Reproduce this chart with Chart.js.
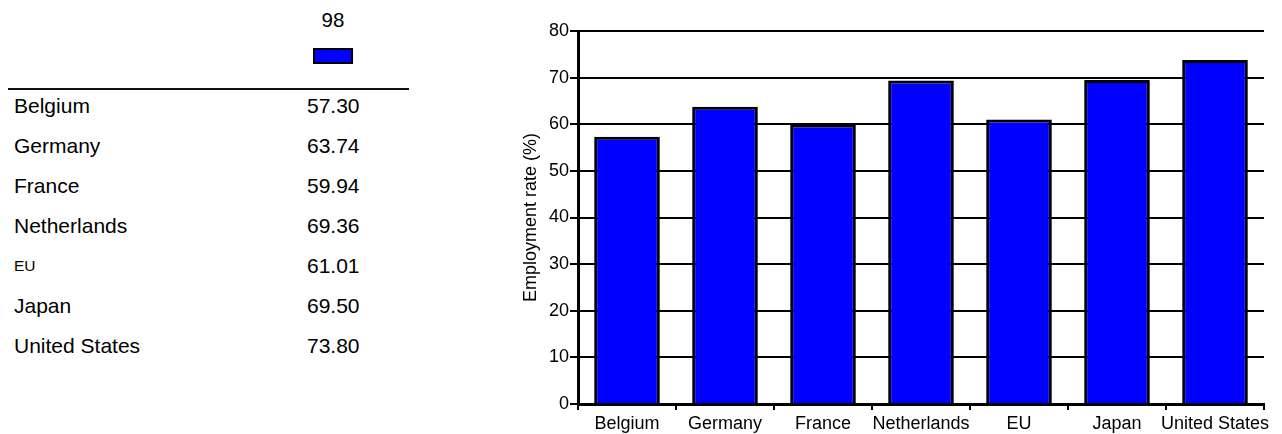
<!DOCTYPE html>
<html>
<head>
<meta charset="utf-8">
<title>Employment rate</title>
<script src="https://cdn.jsdelivr.net/npm/chart.js@4/dist/chart.umd.min.js"></script>
<style>
  html, body { margin: 0; padding: 0; background: #fff; }
  body { width: 1282px; height: 434px; position: relative; overflow: hidden;
         font-family: "Liberation Sans", Arial, sans-serif; color: #000; }
  #table { position: absolute; left: 0; top: 0; width: 500px; height: 434px; }
  .hdr { position: absolute; left: 303px; width: 60px; top: 8px; height: 24px; line-height: 24px;
         text-align: center; font-size: 20.5px; }
  .swatch { position: absolute; left: 313px; top: 48px; width: 36px; height: 12px;
            border: 2px solid #000; background: #0000ff; }
  .rule { position: absolute; left: 8px; top: 88px; width: 401px; height: 2px; background: #111; }
  .row { position: absolute; left: 0; height: 26px; line-height: 26px; font-size: 21px; }
  .row .name { position: absolute; left: 14px; white-space: nowrap; }
  .row .val { position: absolute; left: 307px; white-space: nowrap; }
  .row .name.small { font-size: 15.5px; }
  #wrap { position: absolute; left: 520px; top: 0; width: 762px; height: 434px; }
</style>
</head>
<body>
<div id="table"></div>
<div id="wrap"><canvas id="chart"></canvas></div>
<script>
// Employment rate by country, 1998
const seriesLabel = "98";
const categories = ["Belgium", "Germany", "France", "Netherlands", "EU", "Japan", "United States"];
const rates = [57.30, 63.74, 59.94, 69.36, 61.01, 69.50, 73.80];
const yTicks = [0, 10, 20, 30, 40, 50, 60, 70, 80];
const yTitle = "Employment rate (%)";

// data table on the left
const table = document.getElementById("table");
table.innerHTML =
  '<div class="hdr">' + seriesLabel + '</div>' +
  '<div class="swatch"></div>' +
  '<div class="rule"></div>';
categories.forEach((c, i) => {
  const row = document.createElement("div");
  row.className = "row";
  row.style.top = (93 + i * 40) + "px";
  const n = document.createElement("span");
  n.className = "name" + (c === "EU" ? " small" : "");
  n.textContent = c;
  const v = document.createElement("span");
  v.className = "val";
  v.textContent = rates[i].toFixed(2);
  row.appendChild(n);
  row.appendChild(v);
  table.appendChild(row);
});

// bar chart on the right
const FONT = "'Liberation Sans', Arial, sans-serif";
new Chart(document.getElementById("chart"), {
  type: "bar",
  data: {
    labels: categories,
    datasets: [{
      label: seriesLabel,
      data: rates,
      backgroundColor: "#0000ff",
      borderColor: "#000000",
      borderWidth: 3,
      borderSkipped: "start",
      barPercentage: 0.67,
      categoryPercentage: 1.0
    }]
  },
  options: {
    responsive: true,
    maintainAspectRatio: false,
    animation: false,
    layout: { padding: { top: 31, right: 18, bottom: 0, left: 0 } },
    plugins: { legend: { display: false }, tooltip: { enabled: false } },
    scales: {
      x: {
        offset: true,
        grid: { offset: true, drawOnChartArea: false, drawTicks: true, tickLength: 6,
                color: "#000", lineWidth: 2 },
        border: { display: true, color: "#000", width: 3 },
        ticks: { color: "#000", font: { family: FONT, size: 18 }, padding: 3,
                 maxRotation: 0, autoSkip: false },
        afterFit: s => { s.height = 30; }
      },
      y: {
        min: 0, max: 80,
        afterBuildTicks: s => { s.ticks = yTicks.map(v => ({ value: v })); },
        grid: { color: "#000", lineWidth: 2, tickLength: 8 },
        border: { display: true, color: "#000", width: 3 },
        ticks: { color: "#000", font: { family: FONT, size: 18 }, padding: 1 },
        title: { display: true, text: yTitle, color: "#000",
                 font: { family: FONT, size: 18 }, padding: { top: 0, bottom: 0 } },
        afterFit: s => { s.width = 58; }
      }
    }
  }
});
</script>
</body>
</html>
